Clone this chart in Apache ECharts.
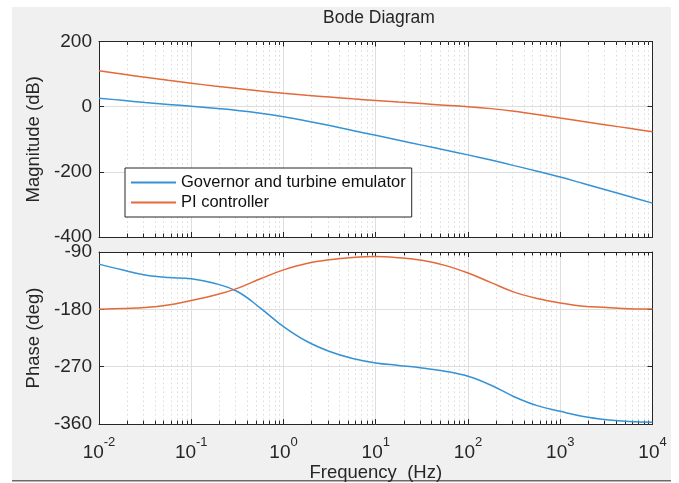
<!DOCTYPE html>
<html>
<head>
<meta charset="utf-8">
<script src="https://cdn.jsdelivr.net/npm/echarts@6/dist/echarts.min.js"></script>
<style>
  html, body { margin: 0; padding: 0; background: #ffffff; }
  #chart { width: 679px; height: 483px; }
</style>
</head>
<body>
<div id="chart"></div>
<script>
// Frequency points (Hz), quarter-decade spacing
const freqHz = [0.01, 0.01778, 0.03162, 0.05623, 0.1, 0.1778, 0.3162, 0.5623,
  1, 1.778, 3.162, 5.623, 10, 17.78, 31.62, 56.23, 100, 177.8, 316.2, 562.3,
  1000, 1778, 3162, 5623, 10000];

// Magnitude (dB)
const govMagDb = [26, 19.5, 13, 7, 1, -5, -11.5, -20, -31, -44, -58, -73, -88,
  -103, -118, -133, -148, -164, -181, -198, -216, -236, -256, -276, -296];
const piMagDb = [110, 100, 90.5, 81, 72, 63.5, 56, 48, 41, 35, 29.5, 24, 19,
  14, 9.5, 4.5, 0, -6, -14, -24, -35, -45.5, -56, -66.5, -77];

// Phase (deg)
const govPhaseDeg = [-109, -118, -126, -130, -132, -139, -152, -178, -207, -230,
  -246, -257, -264, -268, -272, -277, -285, -299, -317, -331, -340, -348, -353,
  -356, -357];
const piPhaseDeg = [-180, -178.5, -177, -173, -166, -158, -147, -132, -118, -108,
  -102, -98.5, -97, -99, -103, -111, -123, -138, -153, -163, -170, -175, -177,
  -179, -179.5];

// Axis ticks
const magTicks = { min: -400, max: 200, step: 200 };
const phaseTicks = { min: -360, max: -90, step: 90 };
const decadeStarts = [0.01, 0.1, 1, 10, 100, 1000];
const minorMultipliers = [2, 3, 4, 5, 6, 7, 8, 9];

const seriesNames = ['Governor and turbine emulator', 'PI controller'];
const colors = ['#3592d4', '#e4693b'];

const minorFreqs = [];
decadeStarts.forEach(d => minorMultipliers.forEach(m => minorFreqs.push(+(d * m).toPrecision(3))));

const FONT = 'Liberation Sans, Arial, Helvetica, sans-serif';
const AXIS_COLOR = '#262626';
const GRID_MAJOR = '#dedede';
const GRID_MINOR = '#dbdbdb';

const gridBox = [
  { left: 99, top: 41.5, width: 553.5, height: 195.5 },
  { left: 99, top: 252, width: 553.5, height: 172.5 }
];

function pairs(xs, ys) { return xs.map((x, i) => [x, ys[i]]); }

function expLabel(v) {
  const e = Math.round(Math.log10(v));
  return '{b|10}{s|' + e + '}';
}

function xAxisPair(gi, withLabels) {
  const common = {
    type: 'log', logBase: 10, min: 0.01, max: 10000, gridIndex: gi,
    axisLine: { show: true, onZero: false, lineStyle: { color: AXIS_COLOR, width: 1 } },
    axisTick: { show: true, inside: true, length: 5, lineStyle: { color: AXIS_COLOR } },
    minorTick: { show: false }
  };
  return [
    Object.assign({}, common, {
      position: 'bottom',
      splitLine: { show: true, lineStyle: { color: GRID_MAJOR, width: 1 } },
      axisLabel: withLabels ? {
        show: true, margin: 12, formatter: expLabel,
        rich: {
          b: { fontFamily: FONT, fontSize: 19, color: '#262626', padding: [7, 0, 0, 0] },
          s: { fontFamily: FONT, fontSize: 13, color: '#262626', verticalAlign: 'top', padding: [0, 0, 9, 0] }
        }
      } : { show: false },
      name: withLabels ? 'Frequency  (Hz)' : '',
      nameLocation: 'middle', nameGap: 36,
      nameTextStyle: { fontFamily: FONT, fontSize: 18.5, color: '#262626' }
    }),
    Object.assign({}, common, {
      position: 'top', axisLabel: { show: false }, splitLine: { show: false }
    })
  ];
}

function yAxisPair(gi, t, name) {
  const common = {
    type: 'value', gridIndex: gi, min: t.min, max: t.max, interval: t.step,
    axisLine: { show: true, lineStyle: { color: AXIS_COLOR, width: 1 } },
    axisTick: { show: true, inside: true, length: 5, lineStyle: { color: AXIS_COLOR } }
  };
  return [
    Object.assign({}, common, {
      position: 'left',
      splitLine: { show: true, lineStyle: { color: GRID_MAJOR, width: 1 } },
      axisLabel: { show: true, margin: 7, fontFamily: FONT, fontSize: 19, color: '#262626' },
      name: name, nameLocation: 'middle', nameGap: 49, nameRotate: 90,
      nameTextStyle: { fontFamily: FONT, fontSize: 18.5, color: '#262626' }
    }),
    Object.assign({}, common, {
      position: 'right', axisLabel: { show: false }, splitLine: { show: false }
    })
  ];
}

// Dotted minor grid lines and inward minor ticks at 2..9 x 10^k
function minorGridSeries(gi, t) {
  return {
    type: 'custom', xAxisIndex: gi * 2, yAxisIndex: gi * 2, silent: true, z: 1,
    data: minorFreqs.map(f => [f]),
    renderItem: function (params, api) {
      const f = api.value(0);
      const top = api.coord([f, t.max]);
      const bot = api.coord([f, t.min]);
      const x = Math.round(top[0]) + 0.5;
      return {
        type: 'group',
        children: [
          { type: 'line', shape: { x1: x, y1: top[1], x2: x, y2: bot[1] },
            style: { stroke: GRID_MINOR, lineWidth: 1, lineDash: [1.5, 3] } },
          { type: 'line', shape: { x1: x, y1: top[1], x2: x, y2: top[1] + 3.5 },
            style: { stroke: AXIS_COLOR, lineWidth: 1 } },
          { type: 'line', shape: { x1: x, y1: bot[1], x2: x, y2: bot[1] - 3.5 },
            style: { stroke: AXIS_COLOR, lineWidth: 1 } }
        ]
      };
    }
  };
}

function curve(name, gi, data, color) {
  return {
    name: name, type: 'line', xAxisIndex: gi * 2, yAxisIndex: gi * 2,
    data: data, smooth: 0.4, showSymbol: false, symbol: 'none', z: 5,
    lineStyle: { color: color, width: 1.5 }, itemStyle: { color: color }
  };
}

const xa = xAxisPair(0, false).concat(xAxisPair(1, true));
const ya = yAxisPair(0, magTicks, 'Magnitude (dB)').concat(yAxisPair(1, phaseTicks, 'Phase (deg)'));

const chart = echarts.init(document.getElementById('chart'), null, { renderer: 'canvas' });
chart.setOption({
  animation: false,
  backgroundColor: '#ffffff',
  graphic: [
    { type: 'rect', z: -10, shape: { x: 12, y: 7, width: 659, height: 473 }, style: { fill: '#f0f0f0' }, silent: true },
    { type: 'rect', z: -10, shape: { x: 12, y: 480, width: 659, height: 1.5 }, style: { fill: '#6a6a6a' }, silent: true }
  ],
  title: {
    text: 'Bode Diagram', left: 374, top: 4, textAlign: 'center',
    textStyle: { fontFamily: FONT, fontSize: 17.5, fontWeight: 'normal', color: '#262626' }
  },
  grid: gridBox.map(g => Object.assign({ show: true, backgroundColor: '#ffffff', borderWidth: 0 }, g)),
  xAxis: xa,
  yAxis: ya,
  legend: {
    data: seriesNames, orient: 'vertical', left: 125, top: 168,
    backgroundColor: '#ffffff', borderColor: '#262626', borderWidth: 1,
    padding: [6, 6, 6, 6], itemGap: 3, itemWidth: 45, itemHeight: 2, icon: 'rect',
    textStyle: { fontFamily: FONT, fontSize: 16.5, color: '#111111', padding: [0, 0, 0, 0] },
    selectedMode: false
  },
  series: [
    minorGridSeries(0, magTicks),
    minorGridSeries(1, phaseTicks),
    curve(seriesNames[0], 0, pairs(freqHz, govMagDb), colors[0]),
    curve(seriesNames[1], 0, pairs(freqHz, piMagDb), colors[1]),
    curve(seriesNames[0], 1, pairs(freqHz, govPhaseDeg), colors[0]),
    curve(seriesNames[1], 1, pairs(freqHz, piPhaseDeg), colors[1])
  ]
});
</script>
</body>
</html>
